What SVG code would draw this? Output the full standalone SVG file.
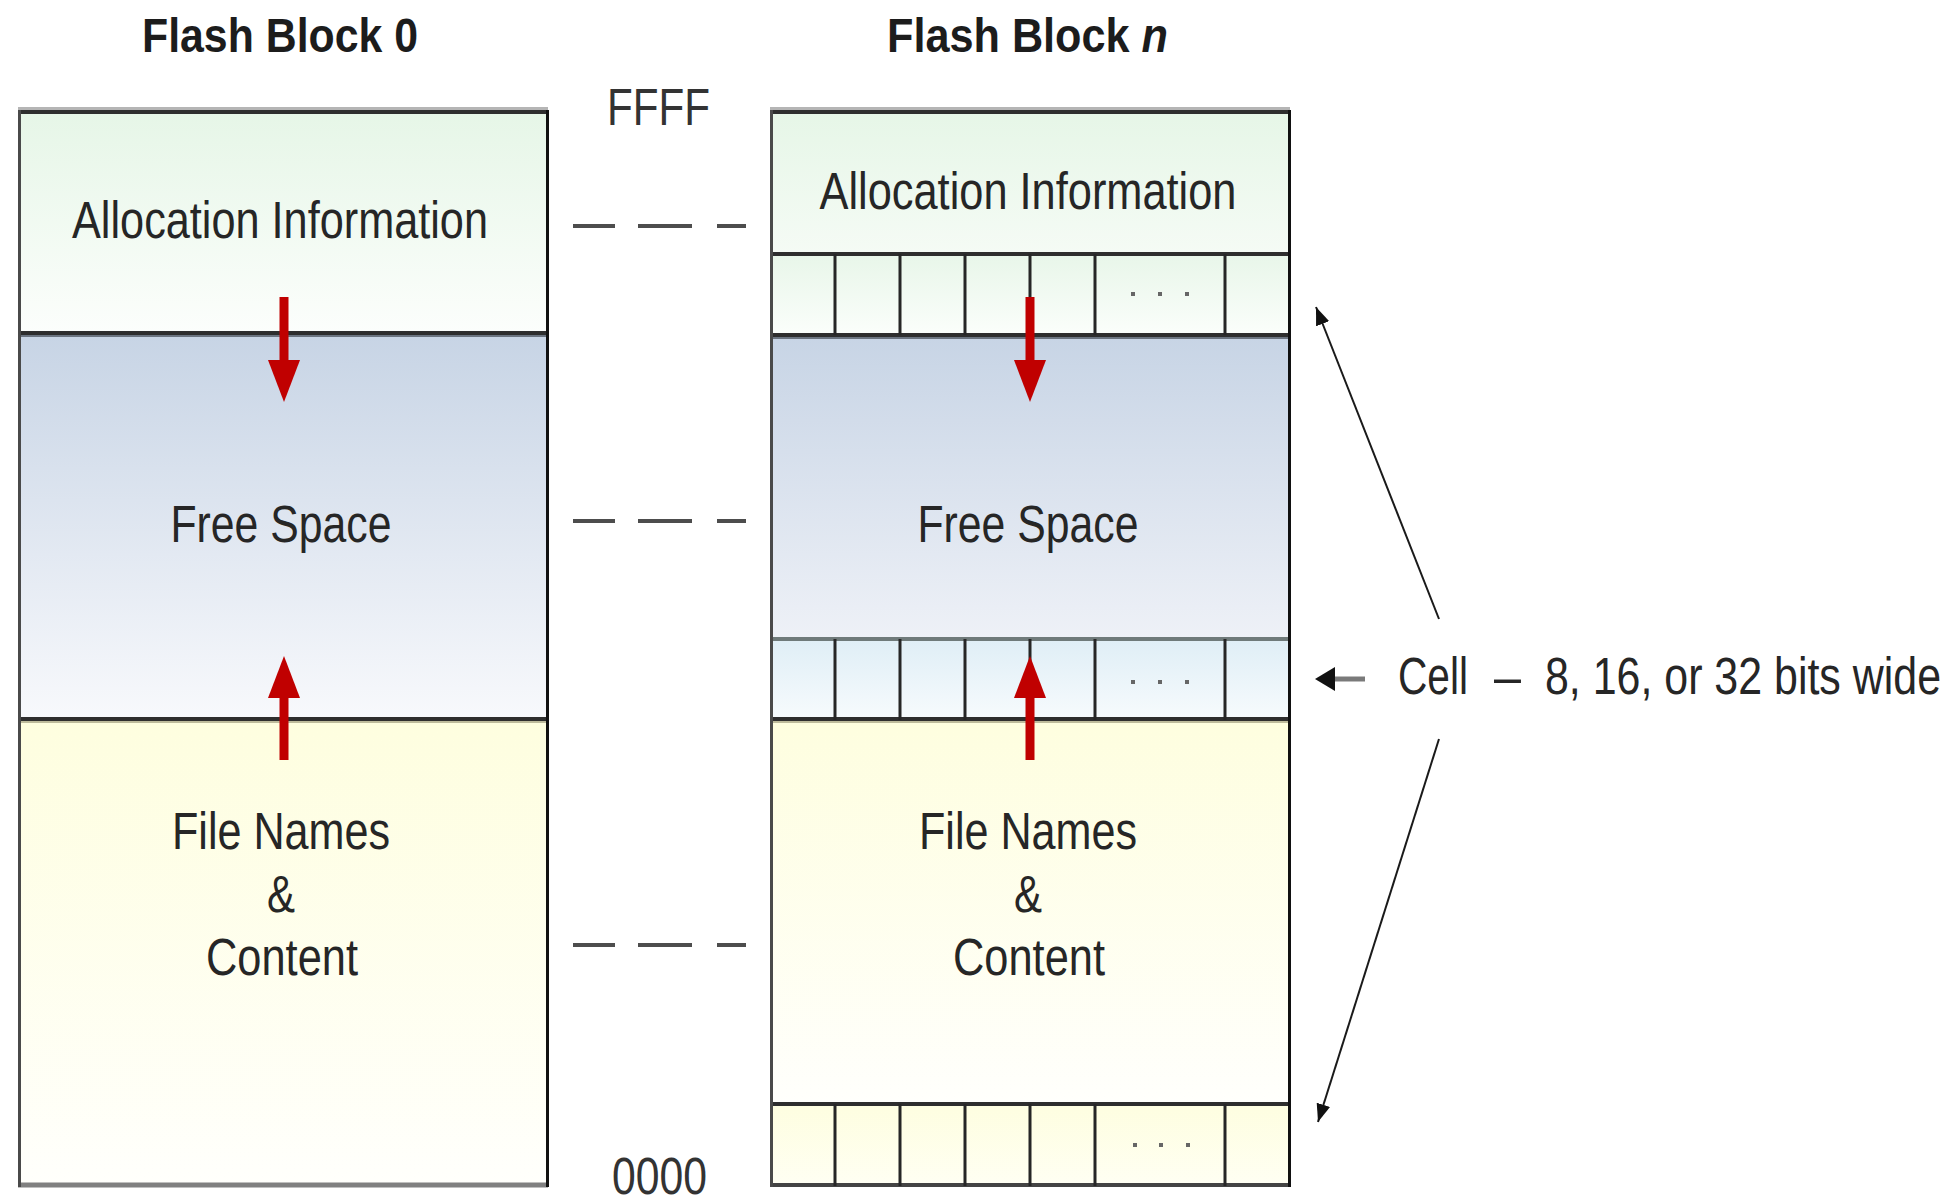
<svg xmlns="http://www.w3.org/2000/svg" width="1954" height="1200" viewBox="0 0 1954 1200">
<defs>
  <linearGradient id="gAlloc" x1="0" y1="0" x2="0" y2="1"><stop offset="0" stop-color="#e6f6e7"/><stop offset="1" stop-color="#fcfefc"/></linearGradient>
  <linearGradient id="gAllocN" x1="0" y1="0" x2="0" y2="1"><stop offset="0" stop-color="#e6f6e7"/><stop offset="1" stop-color="#f5fbf5"/></linearGradient>
  <linearGradient id="gFree" x1="0" y1="0" x2="0" y2="1"><stop offset="0" stop-color="#c7d4e5"/><stop offset="1" stop-color="#f8f9fc"/></linearGradient>
  <linearGradient id="gFreeN" x1="0" y1="0" x2="0" y2="1"><stop offset="0" stop-color="#c7d4e5"/><stop offset="1" stop-color="#eef1f7"/></linearGradient>
  <linearGradient id="gFile" x1="0" y1="0" x2="0" y2="1"><stop offset="0" stop-color="#fefedf"/><stop offset="1" stop-color="#fffffc"/></linearGradient>
  <linearGradient id="gCellG" x1="0" y1="0" x2="0" y2="1"><stop offset="0" stop-color="#e8f6e9"/><stop offset="1" stop-color="#fbfefb"/></linearGradient>
  <linearGradient id="gCellB" x1="0" y1="0" x2="0" y2="1"><stop offset="0" stop-color="#dfeef6"/><stop offset="1" stop-color="#f7fbfd"/></linearGradient>
  <linearGradient id="gCellY" x1="0" y1="0" x2="0" y2="1"><stop offset="0" stop-color="#fefee0"/><stop offset="1" stop-color="#fffff3"/></linearGradient>
  <marker id="redHead" markerUnits="userSpaceOnUse" markerWidth="42" markerHeight="32" refX="0" refY="16" orient="auto" viewBox="0 0 42 32">
    <path d="M0,0 L42,16 L0,32 Z" fill="#c00000"/>
  </marker>
  <marker id="blkHead" markerUnits="userSpaceOnUse" markerWidth="18" markerHeight="14" refX="18" refY="7" orient="auto" viewBox="0 0 18 14">
    <path d="M0,0 L18,7 L0,14 Z" fill="#111"/>
  </marker>
  <marker id="blkHead2" markerUnits="userSpaceOnUse" markerWidth="20" markerHeight="24" refX="0" refY="12" orient="auto" viewBox="0 0 20 24">
    <path d="M0,0 L20,12 L0,24 Z" fill="#111"/>
  </marker>
</defs>
<style>
  .t { font-family: "Liberation Sans", Arial, sans-serif; font-size: 51px; fill: #262626; }
  .title { font-family: "Liberation Sans", Arial, sans-serif; font-size: 48px; font-weight: bold; fill: #1c1c1c; }
  .addr { font-family: "Liberation Sans", Arial, sans-serif; font-size: 52px; fill: #333; }
  .topShade { stroke: #b5b5b5; stroke-width: 3; }
  .dark { stroke: #2e2e2e; stroke-width: 4; }
  .leftEdge { stroke: #4a4a4a; stroke-width: 3; }
  .rightEdge { stroke: #111; stroke-width: 3; }
  .cell { stroke: #262626; stroke-width: 3; }
  .dot { fill: #666; }
  .red { stroke: #c00000; stroke-width: 9; fill: none; }
  .ptr { stroke: #1a1a1a; stroke-width: 2; fill: none; }
  .dash { stroke: #4d4d4d; stroke-width: 4; fill: none; }
</style>

<g id="title-block0">
  <text class="title" x="280" y="52" text-anchor="middle" textLength="276" lengthAdjust="spacingAndGlyphs">Flash Block 0</text>
</g>
<g id="title-blockn">
  <text class="title" x="887" y="52" textLength="281" lengthAdjust="spacingAndGlyphs">Flash Block <tspan font-style="italic">n</tspan></text>
</g>

<g id="addr-ffff">
  <text class="addr" x="607" y="125" textLength="103" lengthAdjust="spacingAndGlyphs">FFFF</text>
</g>
<g id="addr-0000">
  <text class="addr" x="612" y="1194" textLength="95" lengthAdjust="spacingAndGlyphs">0000</text>
</g>

<g id="block0">
  <rect x="18" y="111" width="530" height="223" fill="url(#gAlloc)"/>
  <rect x="18" y="334" width="530" height="386" fill="url(#gFree)"/>
  <rect x="18" y="720" width="530" height="466" fill="url(#gFile)"/>
  <line class="topShade" x1="18" y1="108.5" x2="548" y2="108.5"/>
  <line class="dark" x1="18" y1="112" x2="548" y2="112"/>
  <line class="dark" x1="18" y1="333" x2="548" y2="333"/>
  <line stroke="#6b7480" stroke-width="2" x1="18" y1="336" x2="548" y2="336"/>
  <line class="dark" x1="18" y1="719" x2="548" y2="719"/>
  <line stroke="#bdbb9c" stroke-width="2" x1="18" y1="722" x2="548" y2="722"/>
  <line stroke="#808080" stroke-width="5" x1="18" y1="1185" x2="548" y2="1185"/>
  <line class="leftEdge" x1="19.5" y1="110" x2="19.5" y2="1187"/>
  <line class="rightEdge" x1="547.5" y1="110" x2="547.5" y2="1187"/>
  <text class="t" x="280" y="238" text-anchor="middle" textLength="416" lengthAdjust="spacingAndGlyphs">Allocation Information</text>
  <text class="t" x="281" y="542" text-anchor="middle" textLength="221" lengthAdjust="spacingAndGlyphs">Free Space</text>
  <text class="t" x="281" y="849" text-anchor="middle" textLength="218" lengthAdjust="spacingAndGlyphs">File Names</text>
  <text class="t" x="281" y="912" text-anchor="middle" textLength="28" lengthAdjust="spacingAndGlyphs">&amp;</text>
  <text class="t" x="282" y="975" text-anchor="middle" textLength="152" lengthAdjust="spacingAndGlyphs">Content</text>
</g>

<g id="blockn">
  <rect x="770" y="111" width="520" height="143" fill="url(#gAllocN)"/>
  <rect x="770" y="254" width="520" height="81" fill="url(#gCellG)"/>
  <rect x="770" y="335" width="520" height="304" fill="url(#gFreeN)"/>
  <rect x="770" y="639" width="520" height="81" fill="url(#gCellB)"/>
  <rect x="770" y="720" width="520" height="384" fill="url(#gFile)"/>
  <rect x="770" y="1104" width="520" height="82" fill="url(#gCellY)"/>
  <line class="topShade" x1="770" y1="108.5" x2="1290" y2="108.5"/>
  <line class="dark" x1="770" y1="112" x2="1290" y2="112"/>
  <line class="dark" x1="770" y1="254" x2="1290" y2="254"/>
  <line class="dark" x1="770" y1="335" x2="1290" y2="335"/>
  <line stroke="#6b7480" stroke-width="2" x1="770" y1="338" x2="1290" y2="338"/>
  <line stroke="#6f7a7a" stroke-width="4" x1="770" y1="639" x2="1290" y2="639"/>
  <line class="dark" x1="770" y1="719" x2="1290" y2="719"/>
  <line stroke="#bdbb9c" stroke-width="2" x1="770" y1="722" x2="1290" y2="722"/>
  <line class="dark" x1="770" y1="1104" x2="1290" y2="1104"/>
  <line stroke="#444" stroke-width="4" x1="770" y1="1185" x2="1290" y2="1185"/>
  <g class="cells">
    <path class="cell" d="M835,254V335 M900,254V335 M965,254V335 M1030,254V335 M1095,254V335 M1225,254V335"/>
    <path class="cell" d="M835,639V720 M900,639V720 M965,639V720 M1030,639V720 M1095,639V720 M1225,639V720"/>
    <path class="cell" d="M835,1104V1186 M900,1104V1186 M965,1104V1186 M1030,1104V1186 M1095,1104V1186 M1225,1104V1186"/>
  </g>
  <g class="dots">
    <rect class="dot" x="1131" y="292" width="4" height="4"/><rect class="dot" x="1158" y="292" width="4" height="4"/><rect class="dot" x="1185" y="292" width="4" height="4"/>
    <rect class="dot" x="1131" y="680" width="4" height="4"/><rect class="dot" x="1158" y="680" width="4" height="4"/><rect class="dot" x="1185" y="680" width="4" height="4"/>
    <rect class="dot" x="1133" y="1143" width="4" height="4"/><rect class="dot" x="1159" y="1143" width="4" height="4"/><rect class="dot" x="1186" y="1143" width="4" height="4"/>
  </g>
  <line class="leftEdge" x1="771.5" y1="110" x2="771.5" y2="1187"/>
  <line class="rightEdge" x1="1289.5" y1="110" x2="1289.5" y2="1187"/>
  <text class="t" x="1028" y="209" text-anchor="middle" textLength="417" lengthAdjust="spacingAndGlyphs">Allocation Information</text>
  <text class="t" x="1028" y="542" text-anchor="middle" textLength="221" lengthAdjust="spacingAndGlyphs">Free Space</text>
  <text class="t" x="1028" y="849" text-anchor="middle" textLength="218" lengthAdjust="spacingAndGlyphs">File Names</text>
  <text class="t" x="1028" y="912" text-anchor="middle" textLength="28" lengthAdjust="spacingAndGlyphs">&amp;</text>
  <text class="t" x="1029" y="975" text-anchor="middle" textLength="152" lengthAdjust="spacingAndGlyphs">Content</text>
</g>

<g id="cell-label">
  <text class="t" x="1398" y="694" textLength="70" lengthAdjust="spacingAndGlyphs">Cell</text>
  <text class="t" x="1494" y="694" textLength="27" lengthAdjust="spacingAndGlyphs">–</text>
  <text class="t" x="1545" y="694" textLength="396" lengthAdjust="spacingAndGlyphs">8, 16, or 32 bits wide</text>
</g>

<g id="connectors">
  <line class="red" x1="284" y1="297" x2="284" y2="360" marker-end="url(#redHead)"/>
  <line class="red" x1="284" y1="760" x2="284" y2="698" marker-end="url(#redHead)"/>
  <line class="red" x1="1030" y1="297" x2="1030" y2="360" marker-end="url(#redHead)"/>
  <line class="red" x1="1030" y1="760" x2="1030" y2="698" marker-end="url(#redHead)"/>
  <path class="dash" d="M573,226H615 M638,226H692 M717,226H746"/>
  <path class="dash" d="M573,521H615 M638,521H692 M717,521H746"/>
  <path class="dash" d="M573,945H615 M638,945H692 M717,945H746"/>
  <line class="ptr" x1="1439" y1="619" x2="1316" y2="307" marker-end="url(#blkHead)"/>
  <line class="ptr" x1="1439" y1="739" x2="1318" y2="1122" marker-end="url(#blkHead)"/>
  <line stroke="#7a7a7a" stroke-width="5" x1="1365" y1="679" x2="1335" y2="679" marker-end="url(#blkHead2)"/>
</g>
</svg>
